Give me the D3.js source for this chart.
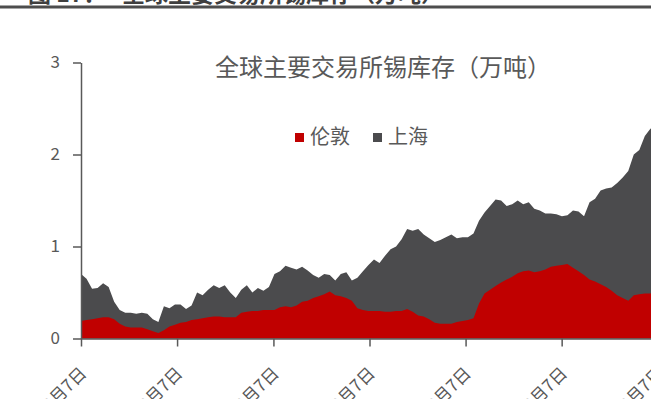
<!DOCTYPE html>
<html>
<head>
<meta charset="utf-8">
<script src="https://cdn.jsdelivr.net/npm/d3@7"></script>
<style>
  html, body { margin: 0; padding: 0; background: #ffffff; }
  svg { display: block; }
  text { font-family: "Noto Sans CJK SC", "Noto Sans", sans-serif; }
</style>
</head>
<body>
<svg id="chart" width="651" height="399"></svg>
<script>
// Tin stocks held at LME (London) and SHFE (Shanghai), in 10k tonnes,
// sampled every three weeks.
const seriesNames = ["伦敦", "上海"];
const seriesColors = ["#c00000", "#4b4b4d"];
const firstSample = "2018-03-07";
const sampleStepDays = 21;

const london = [
  0.19, 0.20, 0.21, 0.22, 0.23, 0.23, 0.21, 0.16, 0.13, 0.12,
  0.12, 0.12, 0.10, 0.08, 0.06, 0.09, 0.13, 0.15, 0.17, 0.18,
  0.20, 0.21, 0.22, 0.23, 0.24, 0.24, 0.23, 0.23, 0.23, 0.28,
  0.29, 0.30, 0.30, 0.31, 0.31, 0.31, 0.34, 0.35, 0.34, 0.36,
  0.40, 0.41, 0.44, 0.46, 0.48, 0.51, 0.47, 0.46, 0.44, 0.41,
  0.33, 0.31, 0.30, 0.30, 0.30, 0.29, 0.29, 0.30, 0.30, 0.32,
  0.29, 0.25, 0.24, 0.21, 0.17, 0.16, 0.16, 0.16, 0.18, 0.19,
  0.20, 0.22, 0.38, 0.49, 0.53, 0.57, 0.61, 0.64, 0.67, 0.71,
  0.73, 0.74, 0.72, 0.73, 0.75, 0.78, 0.79, 0.80, 0.81, 0.77,
  0.73, 0.69, 0.64, 0.62, 0.59, 0.56, 0.52, 0.47, 0.44, 0.41,
  0.47, 0.48, 0.49, 0.49, 0.50
];

const shanghai = [
  0.51, 0.45, 0.33, 0.33, 0.37, 0.33, 0.19, 0.15, 0.15, 0.16,
  0.15, 0.16, 0.17, 0.13, 0.12, 0.26, 0.20, 0.22, 0.20, 0.14,
  0.16, 0.29, 0.25, 0.30, 0.34, 0.31, 0.35, 0.27, 0.21, 0.25,
  0.29, 0.20, 0.25, 0.21, 0.25, 0.39, 0.39, 0.44, 0.43, 0.39,
  0.38, 0.33, 0.25, 0.20, 0.22, 0.18, 0.16, 0.24, 0.28, 0.22,
  0.33, 0.42, 0.50, 0.56, 0.52, 0.61, 0.68, 0.70, 0.78, 0.87,
  0.88, 0.94, 0.89, 0.88, 0.88, 0.91, 0.94, 0.97, 0.91, 0.91,
  0.90, 0.92, 0.90, 0.88, 0.91, 0.94, 0.89, 0.80, 0.79, 0.79,
  0.73, 0.74, 0.69, 0.66, 0.61, 0.58, 0.56, 0.53, 0.53, 0.62,
  0.65, 0.64, 0.84, 0.90, 1.02, 1.07, 1.12, 1.22, 1.31, 1.41,
  1.53, 1.57, 1.71, 1.79, 1.80
];

const yTicks = [0, 1, 2, 3];
const xTickDates = ["2018-03-07", "2019-03-07", "2020-03-07", "2021-03-07",
                    "2022-03-07", "2023-03-07", "2024-03-07"];
const xTickLabels = ["2018年3月7日", "2019年3月7日", "2020年3月7日", "2021年3月7日",
                     "2022年3月7日", "2023年3月7日", "2024年3月7日"];
const chartTitle = "全球主要交易所锡库存（万吨）";
const figureCaption = ["图 17：", "全球主要交易所锡库存（万吨）"];

const parseDate = d3.timeParse("%Y-%m-%d");
const start = parseDate(firstSample);
const rows = london.map((v, i) => ({
  date: d3.timeDay.offset(start, i * sampleStepDays),
  london: v,
  shanghai: shanghai[i]
}));

const svg = d3.select("#chart");
const axisColor = "#595959";

// caption strip along the top edge
svg.append("rect").attr("x", 0).attr("y", 5.5).attr("width", 651).attr("height", 3)
  .attr("fill", "#4d4d4d");
svg.append("text").attr("x", 28).attr("y", 1.5)
  .attr("font-size", 23).attr("font-weight", "bold").attr("fill", "#3f3f3f")
  .text(figureCaption[0]);
svg.append("text").attr("x", 122).attr("y", 1.5)
  .attr("font-size", 23).attr("font-weight", "bold").attr("fill", "#3f3f3f")
  .text(figureCaption[1]);

const x = d3.scaleTime()
  .domain([parseDate(xTickDates[0]), parseDate(xTickDates[xTickDates.length - 1])])
  .range([81, 658]);
const y = d3.scaleLinear().domain([0, 3]).range([338.5, 62.5]);

// stacked areas: London at the bottom, Shanghai on top
const stacked = d3.stack().keys(["london", "shanghai"])(rows);
const area = d3.area()
  .x(d => x(d.data.date))
  .y0(y(0))
  .y1(d => y(d[1]))
  .curve(d3.curveLinear);

svg.append("g").selectAll("path")
  .data(stacked.slice().reverse())
  .join("path")
  .attr("d", area)
  .attr("fill", d => seriesColors[d.index]);

// y axis
const yAxis = svg.append("g").attr("transform", "translate(81,0)")
  .call(d3.axisLeft(y).tickValues(yTicks).tickSize(8).tickSizeOuter(0).tickPadding(13)
    .tickFormat(d3.format("d")));
yAxis.select(".domain").attr("stroke", axisColor).attr("stroke-width", 1.5);
yAxis.selectAll(".tick line").attr("stroke", axisColor).attr("stroke-width", 1.5);
yAxis.selectAll(".tick text").attr("fill", axisColor).attr("font-size", 17)
  .attr("font-family", "'Liberation Sans', Arial, sans-serif");

// x axis
const xAxis = svg.append("g").attr("transform", "translate(0,338.5)")
  .call(d3.axisBottom(x).tickValues(xTickDates.map(parseDate)).tickSize(8).tickSizeOuter(0)
    .tickFormat((d, i) => xTickLabels[i]));
xAxis.select(".domain").attr("stroke", axisColor).attr("stroke-width", 1.5);
xAxis.selectAll(".tick line").attr("stroke", axisColor).attr("stroke-width", 1.5);
xAxis.selectAll(".tick text")
  .attr("fill", axisColor).attr("font-size", 17)
  .attr("text-anchor", "end")
  .attr("y", 0).attr("dy", 0)
  .attr("transform", "translate(6,36) rotate(-45)");

// chart title
svg.append("text").attr("x", 215).attr("y", 76)
  .attr("font-size", 24).attr("fill", axisColor)
  .text(chartTitle);

// legend
const legend = svg.append("g").attr("transform", "translate(295,133)");
const legendItems = legend.selectAll("g").data(seriesNames).join("g")
  .attr("transform", (d, i) => `translate(${i * 78},0)`);
legendItems.append("rect").attr("width", 9).attr("height", 9)
  .attr("fill", (d, i) => seriesColors[i]);
legendItems.append("text").attr("x", 15).attr("y", 11)
  .attr("font-size", 20).attr("fill", axisColor)
  .text(d => d);
</script>
</body>
</html>
